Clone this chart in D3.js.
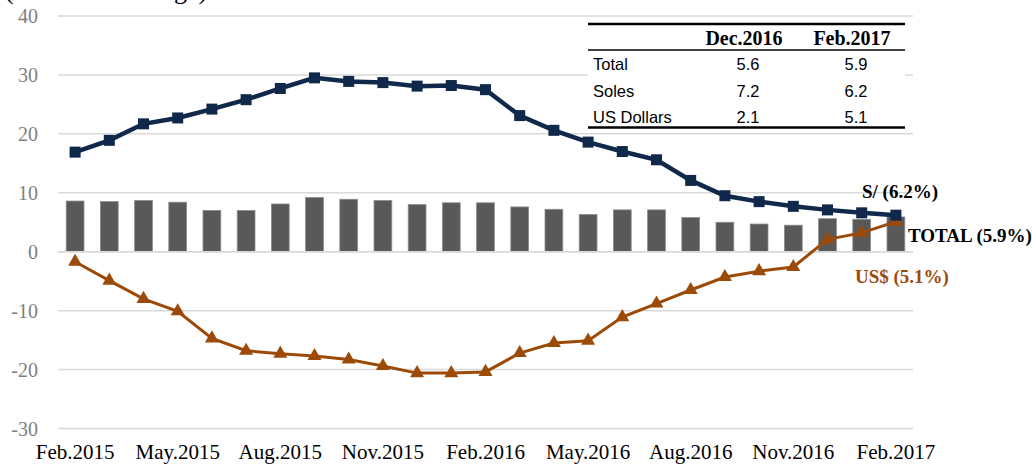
<!DOCTYPE html>
<html>
<head>
<meta charset="utf-8">
<script src="https://cdn.jsdelivr.net/npm/d3@7"></script>
<style>
body { margin: 0; background: #fff; }
svg { display: block; }
</style>
</head>
<body>
<svg></svg>
<script>
const width = 1032;
const height = 464;

// monthly categories Feb.2015 .. Feb.2017
const months = ['Feb.2015','Mar.2015','Apr.2015','May.2015','Jun.2015','Jul.2015','Aug.2015','Sep.2015','Oct.2015','Nov.2015','Dec.2015','Jan.2016',
  'Feb.2016','Mar.2016','Apr.2016','May.2016','Jun.2016','Jul.2016','Aug.2016','Sep.2016','Oct.2016','Nov.2016','Dec.2016','Jan.2017','Feb.2017'];
const total = [8.6,8.5,8.7,8.4,7.0,7.0,8.1,9.2,8.9,8.7,8.0,8.3,8.3,7.6,7.2,6.3,7.1,7.1,5.8,5.0,4.7,4.5,5.6,5.5,5.9];
const soles = [16.9,18.9,21.7,22.7,24.2,25.8,27.7,29.5,28.9,28.7,28.1,28.2,27.5,23.1,20.6,18.6,17.0,15.6,12.1,9.5,8.5,7.7,7.1,6.6,6.2];
const dollars = [-1.7,-4.9,-8.0,-10.1,-14.7,-16.8,-17.3,-17.7,-18.3,-19.4,-20.6,-20.6,-20.4,-17.2,-15.5,-15.1,-11.1,-8.8,-6.5,-4.3,-3.3,-2.6,2.1,3.2,5.1];
const yTicks = [-30,-20,-10,0,10,20,30,40];
const xTickLabels = ['Feb.2015','May.2015','Aug.2015','Nov.2015','Feb.2016','May.2016','Aug.2016','Nov.2016','Feb.2017'];

const tableHead = ['', 'Dec.2016', 'Feb.2017'];
const tableRows = [['Total', '5.6', '5.9'], ['Soles', '7.2', '6.2'], ['US Dollars', '2.1', '5.1']];

const navy = '#10294a';
const brown = '#9c4a08';
const serif = '"Liberation Serif", "DejaVu Serif", serif';
const sans = '"Liberation Sans", "Open Sans", sans-serif';

const svg = d3.select('svg').attr('width', width).attr('height', height);

const x = d3.scaleBand().domain(months).range([58, 913]).paddingInner(0.48).paddingOuter(0.24);
const cx = d => x(d) + x.bandwidth() / 2;
const y = d3.scaleLinear().domain([-30, 40]).range([428.5, 16]);

// title (cut at top like the source)
svg.append('text')
  .attr('x', 5).attr('y', -1)
  .style('font-family', serif).style('font-size', '26px').style('fill', '#000')
  .text('(Annual % change)');

// gridlines
svg.append('g').selectAll('line')
  .data(yTicks).enter().append('line')
  .attr('x1', 58).attr('x2', 913)
  .attr('y1', d => y(d)).attr('y2', d => y(d))
  .style('stroke', '#d9d9d9').style('stroke-width', 1.5);

// y axis labels
svg.append('g').selectAll('text')
  .data(yTicks).enter().append('text')
  .attr('x', 38).attr('y', d => y(d))
  .attr('dy', '0.35em')
  .attr('text-anchor', 'end')
  .style('font-family', serif).style('font-size', '20px').style('fill', '#7f7f7f')
  .text(d => d);

// x axis labels
const xAxis = d3.axisBottom(x).tickValues(xTickLabels).tickSize(0).tickPadding(0);
const gx = svg.append('g').attr('transform', 'translate(0,444)').call(xAxis);
gx.select('.domain').remove();
gx.selectAll('text')
  .style('font-family', serif).style('font-size', '21px').style('fill', '#000');

// bars (total)
svg.append('g').selectAll('rect')
  .data(total).enter().append('rect')
  .attr('x', (d, i) => x(months[i]))
  .attr('width', x.bandwidth())
  .attr('y', d => y(Math.max(0, d)))
  .attr('height', d => Math.abs(y(d) - y(0)))
  .style('fill', '#595959')
  .style('stroke', '#8c8c8c').style('stroke-width', 0.8);

// zero line over bars
svg.append('line')
  .attr('x1', 58).attr('x2', 913).attr('y1', y(0)).attr('y2', y(0))
  .style('stroke', '#d9d9d9').style('stroke-width', 1.5);

const line = d3.line().x((d, i) => cx(months[i])).y(d => y(d));

// US dollars
svg.append('path').datum(dollars)
  .attr('d', line)
  .style('fill', 'none').style('stroke', brown).style('stroke-width', 3);
svg.append('g').selectAll('path')
  .data(dollars).enter().append('path')
  .attr('d', d3.symbol().type(d3.symbolTriangle).size(85))
  .attr('transform', (d, i) => `translate(${cx(months[i])},${y(d)})`)
  .style('fill', brown);

// soles
svg.append('path').datum(soles)
  .attr('d', line)
  .style('fill', 'none').style('stroke', navy).style('stroke-width', 4.5);
svg.append('g').selectAll('rect')
  .data(soles).enter().append('rect')
  .attr('x', (d, i) => cx(months[i]) - 5.5)
  .attr('y', d => y(d) - 5.5)
  .attr('width', 11).attr('height', 11)
  .style('fill', navy);

// end labels
const labels = [
  {text: 'S/ (6.2%)', x: 862, y: 198, color: '#000'},
  {text: 'TOTAL (5.9%)', x: 908, y: 242, color: '#000'},
  {text: 'US$ (5.1%)', x: 855, y: 283, color: brown}
];
svg.append('g').selectAll('text')
  .data(labels).enter().append('text')
  .attr('x', d => d.x).attr('y', d => d.y)
  .style('font-family', serif).style('font-size', '19px').style('font-weight', 'bold')
  .style('fill', d => d.color)
  .text(d => d.text);

// summary table
const tbl = svg.append('g');
const colX = [593, 744, 852];
tbl.append('rect').attr('x', 588).attr('y', 24).attr('width', 317).attr('height', 104).style('fill', '#fff');
tbl.append('line').attr('x1', 588).attr('x2', 905).attr('y1', 24).attr('y2', 24).style('stroke', '#000').style('stroke-width', 2.5);
tbl.append('line').attr('x1', 588).attr('x2', 905).attr('y1', 50).attr('y2', 50).style('stroke', '#000').style('stroke-width', 1.5);
tbl.append('line').attr('x1', 588).attr('x2', 905).attr('y1', 127.5).attr('y2', 127.5).style('stroke', '#000').style('stroke-width', 2.5);
tbl.selectAll('.head')
  .data(tableHead).enter().append('text')
  .attr('class', 'head')
  .attr('x', (d, i) => colX[i]).attr('y', 45)
  .attr('text-anchor', 'middle')
  .style('font-family', serif).style('font-size', '20px').style('font-weight', 'bold')
  .text(d => d);
tableRows.forEach((row, r) => {
  tbl.selectAll('.row' + r)
    .data(row).enter().append('text')
    .attr('x', (d, i) => i === 0 ? colX[0] : colX[i] + 4)
    .attr('y', 70 + r * 26.5)
    .attr('text-anchor', (d, i) => i === 0 ? 'start' : 'middle')
    .style('font-family', sans).style('font-size', '16.5px').style('fill', '#000')
    .text(d => d);
});
</script>
</body>
</html>
